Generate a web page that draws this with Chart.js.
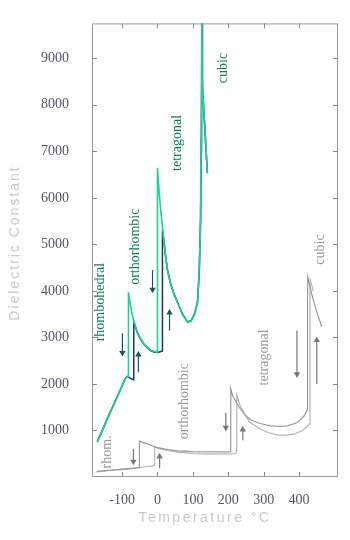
<!DOCTYPE html>
<html>
<head>
<meta charset="utf-8">
<script src="https://cdn.jsdelivr.net/npm/chart.js@4"></script>
<style>
  body { margin: 0; background: #fff; }
  #wrap { width: 350px; height: 540px; position: relative; }
</style>
</head>
<body>
<div id="wrap"><canvas id="myChart"></canvas></div>
<script>
'use strict';

// tick labels
const xTicks = [-100, 0, 100, 200, 300, 400];
const yTicks = [1000, 2000, 3000, 4000, 5000, 6000, 7000, 8000, 9000];

// BaTiO3-like curves (green / navy)
const greenT = [-170, -150, -130, -110, -91, -85, -82, -82, -76, -71, -64, -57, -48, -40, -30, -20, -10, -2, 0, 0, 4, 8, 13, 17, 22, 28, 37, 47, 57, 70, 85, 95, 105, 113, 117, 121, 123, 125, 127, 133, 141];
const greenE = [750, 1100, 1440, 1780, 2110, 2150, 2160, 3970, 3680, 3470, 3280, 3110, 2980, 2880, 2800, 2730, 2700, 2690, 2690, 6640, 6200, 5820, 5450, 5140, 4800, 4450, 4150, 3920, 3740, 3500, 3320, 3350, 3500, 3750, 4300, 5200, 7000, 10500, 8400, 7600, 6530];

const navyT = [-170, -150, -130, -110, -91, -85, -76, -68, -67, -64, -57, -48, -40, -30, -20, -10, 0, 8, 13, 14, 17, 22, 28, 37, 47, 57, 70, 85, 95, 105, 113, 118, 122, 124, 126, 127, 133, 141];
const navyE = [760, 1110, 1450, 1790, 2120, 2160, 2120, 2090, 3330, 3270, 3100, 2970, 2870, 2790, 2720, 2690, 2680, 2690, 2710, 5300, 5150, 4810, 4460, 4160, 3930, 3750, 3510, 3330, 3360, 3510, 3760, 4400, 5600, 7500, 10500, 8400, 7600, 6530];

// KNbO3-like curves (gray)
const grayAT = [-172, -130, -100, -68, -51, -51, -40, -25, 0, 30, 57, 100, 140, 178, 200, 207, 207, 212, 229, 245, 263, 290, 320, 345, 368, 395, 414, 424, 424, 435, 450, 464];
const grayAE = [120, 150, 170, 190, 205, 770, 740, 700, 630, 590, 560, 545, 540, 540, 540, 545, 1900, 1750, 1520, 1350, 1230, 1150, 1100, 1090, 1100, 1170, 1310, 1450, 4300, 3950, 3550, 3230];

const grayBT = [-172, -130, -100, -68, -40, -20, -8, -8, 0, 20, 60, 100, 150, 200, 220, 224, 224, 232, 244, 260, 292, 315, 340, 365, 385, 410, 425, 431, 431, 440];
const grayBE = [110, 140, 160, 185, 215, 235, 250, 650, 620, 580, 530, 505, 490, 495, 500, 540, 1760, 1560, 1380, 1180, 1020, 950, 900, 900, 920, 1000, 1100, 1150, 4250, 4000];

// heating / cooling arrows: temperature, tail value, head value
const greenArrowT = [-99, -54, -14, 34];
const greenArrowFrom = [3090, 2250, 4450, 3150];
const greenArrowTo = [2670, 2630, 4030, 3530];

const grayArrowT = [-68, 6, 193, 241, 394, 450];
const grayArrowFrom = [600, 190, 1380, 790, 3150, 2000];
const grayArrowTo = [330, 440, 1060, 1020, 2210, 2940];

// phase labels
const labelText = ['rhombohedral', 'orthorhombic', 'tetragonal', 'cubic', 'rhom.', 'orthorhombic', 'tetragonal', 'cubic'];
const labelT = [-161, -62, 57, 187, -142, 76, 303, 459];
const labelE = [3760, 4950, 7180, 8790, 540, 1630, 2570, 4890];
const labelGreen = [true, true, true, true, false, false, false, false];

function toPoints(ts, es) {
  return ts.map((t, i) => ({ x: t, y: es[i] }));
}

// Chart.js paints the first dataset on top
const datasets = [];

datasets.push({ data: toPoints(greenT, greenE), borderColor: '#1fcf98', borderWidth: 1.6 });
datasets.push({ data: toPoints(navyT, navyE), borderColor: '#1d3f72', borderWidth: 1.6 });
datasets.push({ data: toPoints(grayAT, grayAE), borderColor: '#9a9a9a', borderWidth: 1.2 });
datasets.push({ data: toPoints(grayBT, grayBE), borderColor: '#b4b4b4', borderWidth: 1.2 });

function addArrows(ts, from, to, color) {
  for (let i = 0; i < ts.length; i++) {
    datasets.push({
      data: [{ x: ts[i], y: from[i] }, { x: ts[i], y: to[i] }],
      borderColor: color,
      backgroundColor: color,
      borderWidth: 1.2,
      pointRadius: [0, 2.5],
      pointStyle: 'triangle',
      pointRotation: to[i] < from[i] ? 180 : 0
    });
  }
}
addArrows(greenArrowT, greenArrowFrom, greenArrowTo, '#145a5a');
addArrows(grayArrowT, grayArrowFrom, grayArrowTo, '#777');

// frame, inward ticks, phase labels and axis titles
const decorPlugin = {
  id: 'decor',
  afterDatasetsDraw(chart) {
    const ctx = chart.ctx;
    const a = chart.chartArea;
    const xs = chart.scales.x;
    const ys = chart.scales.y;
    ctx.save();
    ctx.strokeStyle = '#999';
    ctx.lineWidth = 1;
    ctx.strokeRect(a.left + 0.5, a.top + 0.5, a.right - a.left - 1, a.bottom - a.top - 1);
    ctx.strokeStyle = '#888';
    ctx.beginPath();
    for (let v of xTicks) {
      const px = Math.round(xs.getPixelForValue(v)) + 0.5;
      ctx.moveTo(px, a.bottom); ctx.lineTo(px, a.bottom - 5);
      ctx.moveTo(px, a.top); ctx.lineTo(px, a.top + 5);
    }
    for (let v of yTicks) {
      const py = Math.round(ys.getPixelForValue(v)) + 0.5;
      ctx.moveTo(a.left, py); ctx.lineTo(a.left + 5, py);
      ctx.moveTo(a.right, py); ctx.lineTo(a.right - 5, py);
    }
    ctx.stroke();

    ctx.font = '14px "Liberation Serif", serif';
    ctx.textAlign = 'center';
    ctx.textBaseline = 'middle';
    for (let i = 0; i < labelText.length; i++) {
      ctx.save();
      ctx.translate(xs.getPixelForValue(labelT[i]), ys.getPixelForValue(labelE[i]));
      ctx.rotate(-Math.PI / 2);
      ctx.fillStyle = labelGreen[i] ? '#0f7a5c' : '#999';
      ctx.fillText(labelText[i], 0, 0);
      ctx.restore();
    }

    ctx.fillStyle = '#c8c8c8';
    ctx.font = '14px "Liberation Sans", sans-serif';
    ctx.letterSpacing = '2.5px';
    ctx.fillText('Temperature °C', 205, 518);
    ctx.save();
    ctx.translate(15, 243);
    ctx.rotate(-Math.PI / 2);
    ctx.letterSpacing = '2px';
    ctx.fillText('Dielectric Constant', 0, 0);
    ctx.restore();
    ctx.restore();
  }
};

const tickFont = { family: '"Liberation Serif", serif', size: 14 };

const ctx = document.getElementById('myChart').getContext('2d');
const myChart = new Chart(ctx, {
  type: 'line',
  data: { datasets: datasets },
  options: {
    responsive: true,
    maintainAspectRatio: false,
    animation: false,
    events: [],
    layout: { padding: { top: 9, right: 12, left: 0, bottom: 0 } },
    elements: {
      point: { radius: 0 },
      line: { tension: 0, fill: false }
    },
    plugins: {
      legend: { display: false },
      tooltip: { enabled: false }
    },
    scales: {
      x: {
        type: 'linear',
        min: -185,
        max: 510,
        grid: { display: false },
        border: { display: false },
        ticks: { color: '#556', padding: 7, font: tickFont, callback: (v) => String(v) },
        afterBuildTicks: (scale) => { scale.ticks = xTicks.map(v => ({ value: v })); },
        afterFit: (scale) => { scale.height = 63; }
      },
      y: {
        type: 'linear',
        min: 0,
        max: 9750,
        grid: { display: false },
        border: { display: false },
        ticks: { color: '#556', padding: 15, font: tickFont, callback: (v) => String(v) },
        afterBuildTicks: (scale) => { scale.ticks = yTicks.map(v => ({ value: v })); },
        afterFit: (scale) => { scale.width = 92; }
      }
    }
  },
  plugins: [decorPlugin]
});
</script>
</body>
</html>
